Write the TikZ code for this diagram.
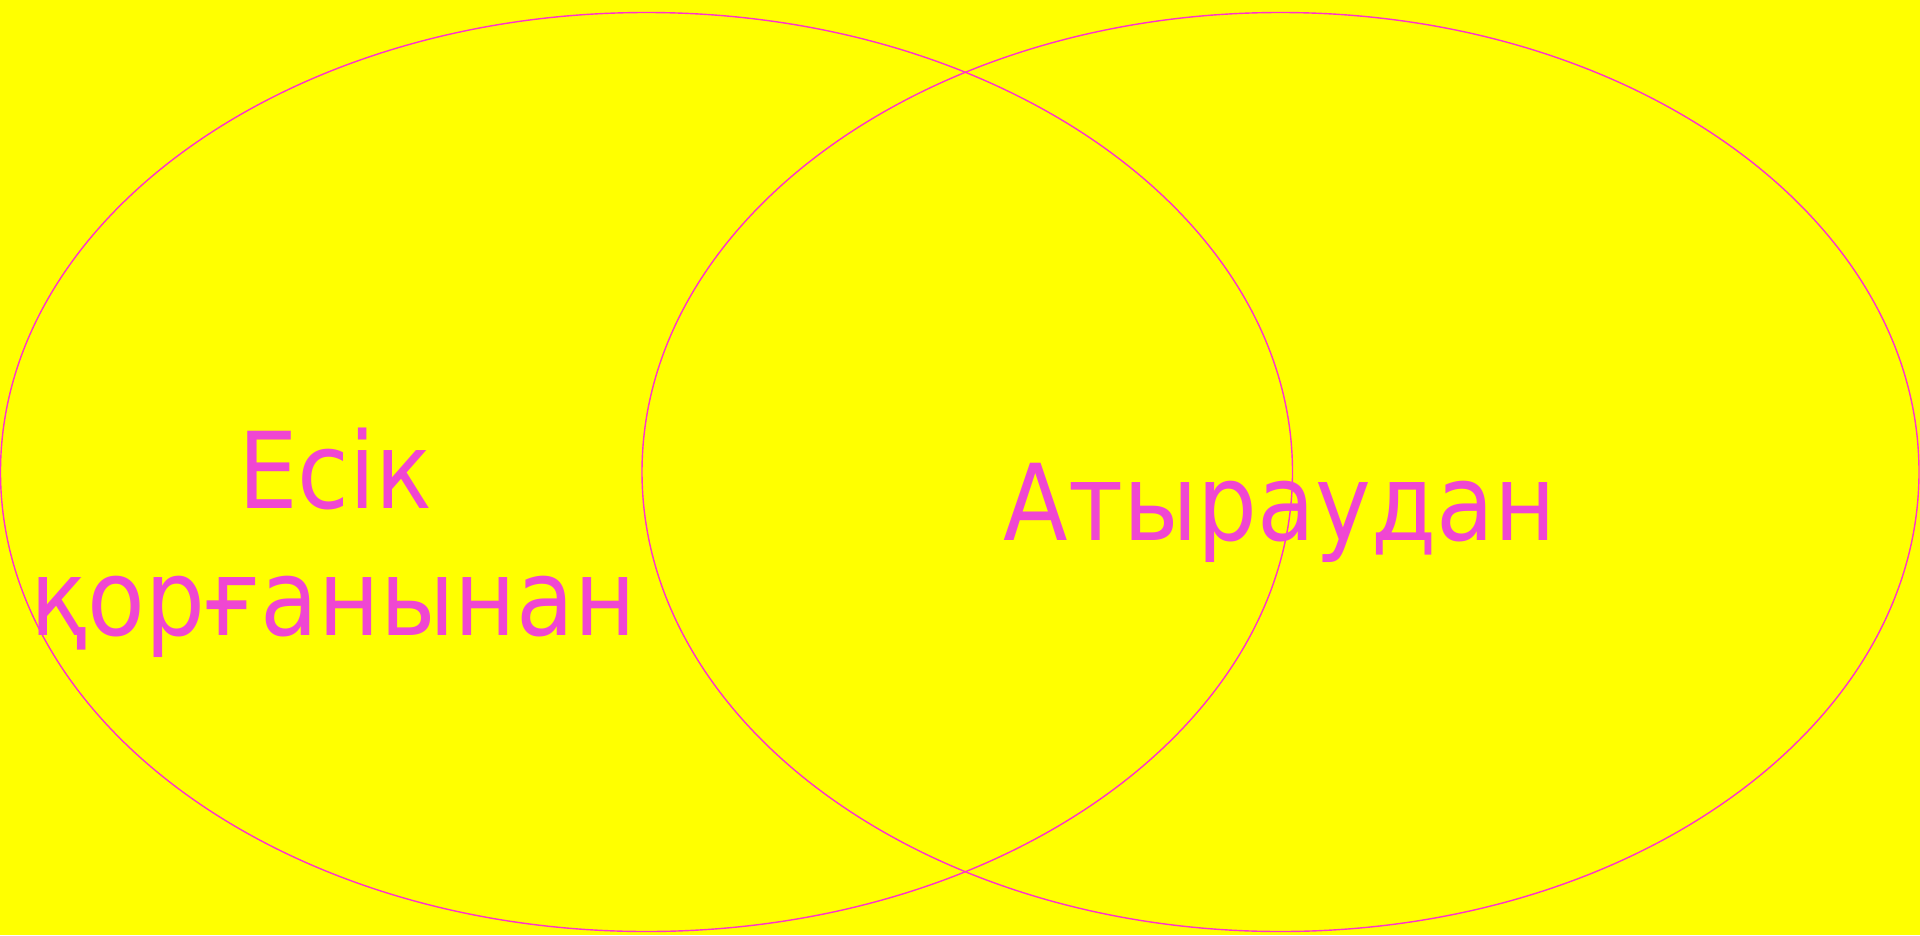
\documentclass[tikz,border=0pt]{standalone}
\usepackage{fontspec}
\newfontfamily\kzfont[FakeStretch=0.89]{DejaVu Sans}
\definecolor{bgyellow}{RGB}{255,255,0}
\definecolor{txtmag}{RGB}{240,70,210}
\definecolor{linemag}{RGB}{255,51,204}
\tikzset{
  setring/.style={draw=linemag, line width=1.4pt},
  setlabel/.style={text=txtmag, font=\kzfont\fontsize{106}{127}\selectfont, inner sep=0pt, anchor=base}
}
\begin{document}
\begin{tikzpicture}[x=1pt,y=-1pt]
\useasboundingbox (0,0) rectangle (1920,935);
\fill[bgyellow] (0,0) rectangle (1920,935);
\draw[setring] (646.5,472) ellipse [x radius=646, y radius=459.5];
\draw[setring] (1280.5,472) ellipse [x radius=638.5, y radius=459.5];
\node[setlabel] (esik) at (335.5,508) {Есік};
\node[setlabel] (qorgan) at (333,635) {қорғанынан};
\node[setlabel] (atyrau) at (1280,540) {Атыраудан};
\end{tikzpicture}
\end{document}
